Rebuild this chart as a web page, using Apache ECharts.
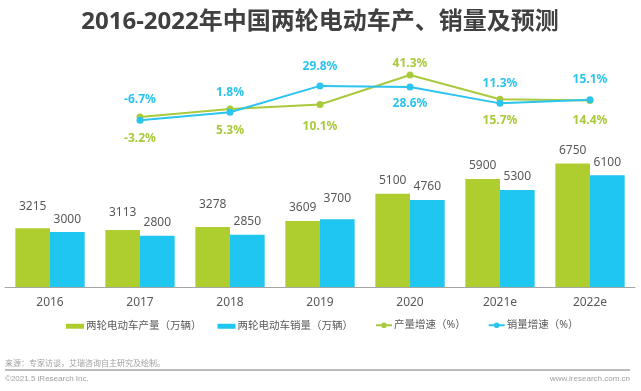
<!DOCTYPE html>
<html>
<head>
<meta charset="utf-8">
<script src="https://cdn.jsdelivr.net/npm/echarts@6/dist/echarts.min.js"></script>
<style>
html,body{margin:0;padding:0;background:#fff;}
#chart{width:641px;height:391px;}
</style>
</head>
<body>
<div id="chart"></div>
<script>
// ---- data ----
const categories = ['2016', '2017', '2018', '2019', '2020', '2021e', '2022e'];
const production = [3215, 3113, 3278, 3609, 5100, 5900, 6750];
const sales = [3000, 2800, 2850, 3700, 4760, 5300, 6100];
const productionGrowth = [null, -3.2, 5.3, 10.1, 41.3, 15.7, 14.4];
const salesGrowth = [null, -6.7, 1.8, 29.8, 28.6, 11.3, 15.1];
const seriesNames = ['两轮电动车产量（万辆）', '两轮电动车销量（万辆）', '产量增速（%）', '销量增速（%）'];
const titleText = '2016-2022年中国两轮电动车产、销量及预测';
const sourceText = '来源：专家访谈，艾瑞咨询自主研究及绘制。';
const copyrightText = '©2021.5 iResearch Inc.';
const siteText = 'www.iresearch.com.cn';

// ---- styles (label placement tweaks) ----
const prodLabelLift = [9, 4, 9, 0, 0, 0, 0];
const salesLabelLift = [0, 0, 0, 8, 0, 0, 0];
const prodGrowthPos = ['bottom', 'bottom', 'bottom', 'bottom', 'top', 'bottom', 'bottom'];
const salesGrowthPos = ['top', 'top', 'top', 'top', 'bottom', 'top', 'top'];
const prodGrowthDist = [0, 12, 12, 13, 2, 12, 11];
const salesGrowthDist = [0, 11, 10, 10, 7, 10, 11];

const GREEN = '#AECE2F';
const BLUE = '#1EC6F0';
const LGREEN = '#A9CA3C';
const LBLUE = '#2BC4EE';
const FONT = "'Noto Sans', 'Noto Sans CJK SC', sans-serif";

const chart = echarts.init(document.getElementById('chart'), null, {renderer: 'canvas'});

function barData(vals, lifts) {
  return vals.map((v, i) => ({value: v, label: {distance: 7 + lifts[i]}}));
}
function lineData(vals, pos, dist) {
  return vals.map((v, i) => v == null ? null : ({value: v, label: {position: pos[i], distance: dist[i]}}));
}

const option = {
  backgroundColor: '#fff',
  animation: false,
  textStyle: {fontFamily: FONT},
  grid: [
    {left: 5, right: 6, top: 140.6, height: 146.4, containLabel: false},
    {left: 5, right: 6, top: 57.4, height: 75.5, containLabel: false}
  ],
  xAxis: [
    {
      type: 'category', gridIndex: 0, data: categories,
      axisLine: {lineStyle: {color: '#a6a6a6', width: 1}},
      axisTick: {show: false},
      axisLabel: {color: '#595959', fontSize: 12, margin: 10, fontFamily: FONT}
    },
    {
      type: 'category', gridIndex: 1, data: categories, show: false
    }
  ],
  yAxis: [
    {type: 'value', gridIndex: 0, min: 0, max: 8000, show: false, splitLine: {show: false}},
    {type: 'value', gridIndex: 1, min: -20, max: 60, show: false, splitLine: {show: false}}
  ],
  legend: [
    {
      data: [seriesNames[0], seriesNames[1]],
      left: 61, top: 316,
      itemWidth: 18, itemHeight: 5, itemGap: 16,
      icon: 'rect',
      textStyle: {color: '#595959', fontSize: 10.5, fontFamily: FONT, padding: [0, 0, 0, -3]}
    },
    {
      data: [seriesNames[2], seriesNames[3]],
      left: 370, top: 315,
      itemWidth: 16, itemHeight: 7, itemGap: 22,
      textStyle: {color: '#595959', fontSize: 10.5, fontFamily: FONT, padding: [0, 0, 0, -3]}
    }
  ],
  series: [
    {
      name: seriesNames[0], type: 'bar', xAxisIndex: 0, yAxisIndex: 0,
      data: barData(production, prodLabelLift),
      barGap: '0%', barCategoryGap: '23%',
      itemStyle: {color: GREEN},
      label: {show: true, position: 'top', color: '#595959', fontSize: 12, fontFamily: FONT}
    },
    {
      name: seriesNames[1], type: 'bar', xAxisIndex: 0, yAxisIndex: 0,
      data: barData(sales, salesLabelLift),
      barGap: '0%', barCategoryGap: '23%',
      itemStyle: {color: BLUE},
      label: {show: true, position: 'top', color: '#595959', fontSize: 12, fontFamily: FONT}
    },
    {
      name: seriesNames[2], type: 'line', xAxisIndex: 1, yAxisIndex: 1,
      data: lineData(productionGrowth, prodGrowthPos, prodGrowthDist),
      symbol: 'circle', symbolSize: 7,
      lineStyle: {color: LGREEN, width: 2},
      itemStyle: {color: LGREEN},
      label: {show: true, color: LGREEN, fontSize: 12, fontWeight: 'bold', fontFamily: FONT,
        formatter: p => p.value + '%'}
    },
    {
      name: seriesNames[3], type: 'line', xAxisIndex: 1, yAxisIndex: 1,
      data: lineData(salesGrowth, salesGrowthPos, salesGrowthDist),
      symbol: 'circle', symbolSize: 7,
      lineStyle: {color: LBLUE, width: 2},
      itemStyle: {color: LBLUE},
      label: {show: true, color: LBLUE, fontSize: 12, fontWeight: 'bold', fontFamily: FONT,
        formatter: p => p.value + '%'}
    }
  ],
  graphic: [
    {type: 'text', x: 320, y: 22, style: {text: titleText, fill: '#404040', font: "bold 24px " + FONT, textAlign: 'center', textVerticalAlign: 'middle'}},
    {type: 'text', x: 5, y: 364, style: {text: sourceText, fill: '#a0a0a0', font: "8px " + FONT, textAlign: 'left', textVerticalAlign: 'middle'}},
    {type: 'line', shape: {x1: 5, y1: 370, x2: 630, y2: 370}, style: {stroke: '#bcbcbc', lineWidth: 2}},
    {type: 'text', x: 5, y: 379, style: {text: copyrightText, fill: '#a0a0a0', font: "8px 'Liberation Sans', Arial, sans-serif", textAlign: 'left', textVerticalAlign: 'middle'}},
    {type: 'text', x: 630, y: 379, style: {text: siteText, fill: '#a0a0a0', font: "8px 'Liberation Sans', Arial, sans-serif", textAlign: 'right', textVerticalAlign: 'middle'}}
  ]
};
chart.setOption(option);
</script>
</body>
</html>
